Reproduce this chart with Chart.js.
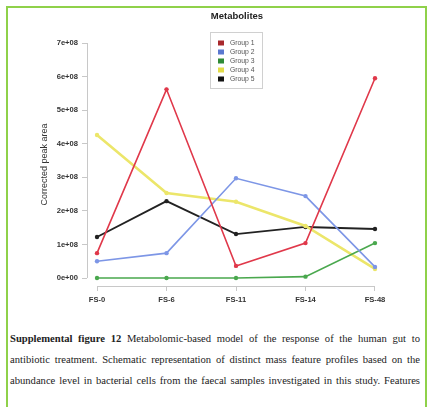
<!DOCTYPE html>
<html>
<head>
<meta charset="utf-8">
<script src="https://cdn.jsdelivr.net/npm/chart.js@4.4.1/dist/chart.umd.min.js"></script>
<style>
  html, body { margin: 0; padding: 0; background: #fff; }
  #frame {
    position: absolute; left: 6px; top: 6px; width: 421px; height: 420px;
    border: 2px solid #8fd14a; border-bottom: none; box-sizing: border-box;
  }
  #wrap { position: absolute; left: 0; top: 0; width: 431px; height: 320px; }
  #caption {
    position: absolute; left: 10px; top: 330px; width: 410px;
    font-family: "Liberation Serif", "DejaVu Serif", serif; font-size: 10.6px; color: #222;
  }
  #caption div { height: 21px; line-height: 18px; text-align: justify; text-align-last: justify; white-space: nowrap; }
</style>
</head>
<body>
<div id="frame"></div>
<div id="wrap"><canvas id="chart" width="431" height="320"></canvas></div>
<div id="caption">
  <div><b>Supplemental figure 12</b> Metabolomic-based model of the response of the human gut to</div>
  <div>antibiotic treatment. Schematic representation of distinct mass feature profiles based on the</div>
  <div>abundance level in bacterial cells from the faecal samples investigated in this study. Features</div>
</div>
<script>
// sampling points and values (units of 1e8)
const timepoints = ['FS-0', 'FS-6', 'FS-11', 'FS-14', 'FS-48'];
const group1 = [0.74, 5.62, 0.36, 1.04, 5.95];
const group2 = [0.50, 0.74, 2.97, 2.44, 0.33];
const group3 = [0.00, 0.00, 0.00, 0.04, 1.04];
const group4 = [4.26, 2.53, 2.27, 1.55, 0.27];
const group5 = [1.22, 2.29, 1.31, 1.52, 1.46];
const yTicks = ['0e+00', '1e+08', '2e+08', '3e+08', '4e+08', '5e+08', '6e+08', '7e+08'];

const series = [
  { label: 'Group 1', data: group1, color: '#e0384a', box: '#a8282c', width: 1.6 },
  { label: 'Group 2', data: group2, color: '#7d96e6', box: '#5a78d0', width: 1.6 },
  { label: 'Group 3', data: group3, color: '#4aa84e', box: '#2f8a36', width: 1.6 },
  { label: 'Group 4', data: group4, color: '#ece66a', box: '#e2dc48', width: 2.6 },
  { label: 'Group 5', data: group5, color: '#222222', box: '#111111', width: 1.8 }
];

const datasets = series.map(s => ({
  label: s.label,
  data: s.data.map((v, i) => ({ x: i, y: v * 1e8 })),
  borderColor: s.color,
  backgroundColor: s.color,
  legendBox: s.box,
  borderWidth: s.width,
  pointRadius: 2.2,
  pointBorderWidth: 0,
  tension: 0
}));

const tickFont = { family: 'Arial, "Liberation Sans", sans-serif', size: 7.6, weight: 'bold' };

// R style axes, title and legend box
const rDecor = {
  id: 'rDecor',
  afterDraw(chart) {
    const ctx = chart.ctx;
    const xs = chart.scales.x, ys = chart.scales.y;
    ctx.save();
    ctx.strokeStyle = '#c8c8c8';
    ctx.lineWidth = 1;
    // y axis line, 0 .. 7e8
    const ax = Math.round(chart.chartArea.left) + 0.5;
    ctx.beginPath();
    ctx.moveTo(ax, ys.getPixelForValue(0));
    ctx.lineTo(ax, ys.getPixelForValue(7e8));
    ctx.stroke();
    // x axis line, first .. last category
    const ay = Math.round(chart.chartArea.bottom) + 0.5;
    ctx.beginPath();
    ctx.moveTo(xs.getPixelForValue(0), ay);
    ctx.lineTo(xs.getPixelForValue(timepoints.length - 1), ay);
    ctx.stroke();

    // title
    ctx.fillStyle = '#222';
    ctx.font = 'bold 9.5px Arial, "Liberation Sans", sans-serif';
    ctx.textAlign = 'center';
    ctx.textBaseline = 'middle';
    ctx.fillText('Metabolites', 237, 16);

    // legend
    const lx = 210, ly = 32, lw = 52, lh = 56;
    ctx.fillStyle = '#fff';
    ctx.fillRect(lx, ly, lw, lh);
    ctx.strokeStyle = '#d0d0d0';
    ctx.strokeRect(lx + 0.5, ly + 0.5, lw, lh);
    ctx.font = '6.8px Arial, "Liberation Sans", sans-serif';
    ctx.textAlign = 'left';
    chart.data.datasets.forEach((ds, i) => {
      const y = ly + 11 + i * 9;
      ctx.fillStyle = ds.legendBox;
      ctx.fillRect(lx + 8, y - 2.5, 6, 5);
      ctx.fillStyle = '#555';
      ctx.fillText(ds.label, lx + 20, y);
    });
    ctx.restore();
  }
};

new Chart(document.getElementById('chart'), {
  type: 'line',
  data: { datasets },
  options: {
    responsive: false,
    animation: false,
    layout: { padding: { top: 43, right: 46, left: 0, bottom: 0 } },
    plugins: { legend: { display: false }, tooltip: { enabled: false } },
    scales: {
      x: {
        type: 'linear',
        min: -0.144,
        max: 4.144,
        afterBuildTicks: s => { s.ticks = timepoints.map((t, i) => ({ value: i })); },
        afterFit: s => { s.height = 34; },
        border: { display: false },
        grid: { drawOnChartArea: false, drawTicks: true, tickLength: 5, color: '#c8c8c8' },
        ticks: {
          callback: v => timepoints[v],
          font: tickFont, color: '#333', padding: 4, maxRotation: 0, autoSkip: false
        }
      },
      y: {
        min: -0.238e8,
        max: 7e8,
        afterBuildTicks: s => { s.ticks = yTicks.map((t, i) => ({ value: i * 1e8 })); },
        afterFit: s => { s.width = 87; },
        border: { display: false },
        grid: { drawOnChartArea: false, drawTicks: true, tickLength: 5, color: '#c8c8c8' },
        ticks: {
          callback: v => yTicks[Math.round(v / 1e8)],
          font: tickFont, color: '#333', padding: 4
        },
        title: {
          display: true,
          text: 'Corrected peak area',
          font: { family: 'Arial, "Liberation Sans", sans-serif', size: 9 },
          color: '#333',
          padding: { top: 39, bottom: 0 }
        }
      }
    }
  },
  plugins: [rDecor]
});
</script>
</body>
</html>
